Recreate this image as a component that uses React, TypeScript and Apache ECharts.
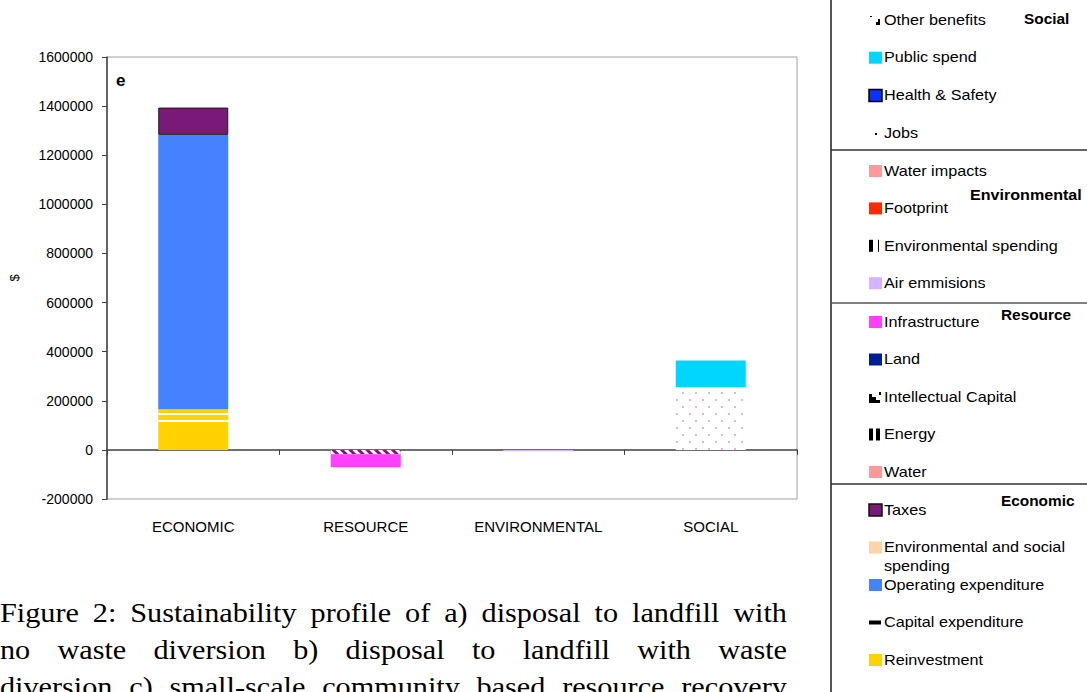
import React, { useEffect, useRef } from "react";
import * as echarts from "echarts";

// Categories along the x axis
const categories = ["ECONOMIC", "RESOURCE", "ENVIRONMENTAL", "SOCIAL"];

// Value axis range ($)
const yMin = -200000;
const yMax = 1600000;
const yStep = 200000;

// Economic indicators
const reinvestment = [109000, null, null, null];
const capitalExpenditure = [57000, null, null, null];
const envSocialSpending = [null, null, null, null];
const operatingExpenditure = [1117000, null, null, null];
const taxes = [111000, null, null, null];

// Resource indicators
const intellectualCapital = [null, -18000, null, null];
const infrastructure = [null, -53000, null, null];
const land = [null, null, null, null];
const energy = [null, null, null, null];
const water = [null, null, null, null];

// Environmental indicators
const airEmissions = [null, null, -6000, null];
const envSpending = [null, null, null, null];
const footprint = [null, null, null, null];
const waterImpacts = [null, null, null, null];

// Social indicators
const jobs = [null, null, null, 255000];
const healthSafety = [null, null, null, null];
const publicSpend = [null, null, null, 109000];
const otherBenefits = [null, null, null, null];

// Legend groups (top to bottom in the side panel)
const legendSocial = ["Other benefits", "Public spend", "Health & Safety", "Jobs"];
const legendEnvironmental = ["Water impacts", "Footprint", "Environmental spending", "Air emmisions"];
const legendResource = ["Infrastructure", "Land", "Intellectual Capital", "Energy", "Water"];
const legendEconomic = ["Taxes", "Environmental and social\nspending", "Operating expenditure", "Capital expenditure", "Reinvestment"];

const captionLines = [
  "Figure 2: Sustainability profile of a) disposal to landfill with",
  "no waste diversion b) disposal to landfill with waste",
  "diversion c) small-scale community based resource recovery",
];

const COLORS: Record<string, string> = {
  reinvest: "#FFD200",
  capex: "#FFD200",
  envsoc: "#FFD3A8",
  opex: "#4482FF",
  taxes: "#7A1A78",
  ic: "#7A1A78",
  infra: "#FF40FF",
  land: "#001E96",
  water: "#FF9999",
  air: "#D6B3FF",
  footprint: "#FF2A00",
  jobs: "#FFFFFF",
  hs: "#0A32FF",
  publicSpend: "#00D6FF",
};

const LABEL_FONT = '"Liberation Sans", Arial, sans-serif';
const SERIF_FONT = '"Liberation Serif", "Times New Roman", serif';
// Text in the panel and caption is set slightly wide
const WIDE = 1.08;

function bar(name: string, data: (number | null)[], itemStyle: any) {
  return {
    name,
    type: "bar",
    stack: "total",
    barWidth: 70,
    xAxisIndex: 0,
    data,
    itemStyle,
  };
}

// Small legend swatch glyphs
function swatch(name: string, cy: number): any[] {
  const x = 869;
  const y = cy - 6;
  const box = (fill: string, stroke?: string) => ({
    type: "rect",
    shape: { x, y, width: 13, height: 12 },
    style: { fill, stroke: stroke || null, lineWidth: stroke ? 1.5 : 0 },
  });
  const blk = (rx: number, ry: number, w: number, h: number) => ({
    type: "rect",
    shape: { x: rx, y: ry, width: w, height: h },
    style: { fill: "#000" },
  });
  switch (name) {
    case "Other benefits":
      return [blk(x + 1, y + 2, 2, 1), blk(x + 7, y + 8, 4, 3), blk(x + 9, y + 5, 2, 3)];
    case "Public spend":
      return [box(COLORS.publicSpend)];
    case "Health & Safety":
      return [box(COLORS.hs, "#000")];
    case "Jobs":
      return [blk(x + 6, y + 6, 2, 2)];
    case "Water impacts":
      return [box(COLORS.water)];
    case "Footprint":
      return [box(COLORS.footprint)];
    case "Environmental spending":
      return [blk(x, y, 4, 12), blk(x + 9, y, 1, 12)];
    case "Air emmisions":
      return [box(COLORS.air)];
    case "Infrastructure":
      return [box(COLORS.infra)];
    case "Land":
      return [box(COLORS.land)];
    case "Intellectual Capital":
      return [
        {
          type: "polygon",
          shape: { points: [[x, y + 3], [x + 3, y + 3], [x + 3, y + 6], [x + 7, y + 6], [x + 7, y + 9], [x + 11, y + 9], [x + 11, y + 12], [x, y + 12]] },
          style: { fill: "#000" },
        },
        blk(x + 10, y + 1, 2, 3),
      ];
    case "Energy":
      return [blk(x, y, 4, 12), blk(x + 7, y, 4, 12)];
    case "Water":
      return [box(COLORS.water)];
    case "Taxes":
      return [box(COLORS.taxes, "#111")];
    case "Environmental and social\nspending":
      return [box(COLORS.envsoc)];
    case "Operating expenditure":
      return [box(COLORS.opex)];
    case "Capital expenditure":
      return [blk(x, y + 4, 12, 4)];
    case "Reinvestment":
      return [box(COLORS.reinvest)];
  }
  return [];
}

function legendGroup(names: string[], startY: number, pitch: number): any[] {
  const out: any[] = [];
  names.forEach((n, i) => {
    const cy = startY + i * pitch;
    out.push(...swatch(n, cy + 1));
    out.push({
      type: "text",
      x: 884,
      y: cy - 9,
      scaleX: WIDE,
      style: {
        text: n,
        font: `15px ${LABEL_FONT}`,
        fill: "#000",
        align: "left",
        verticalAlign: "top",
        lineHeight: 19,
      },
    });
  });
  return out;
}

function header(text: string, x: number, cy: number, sx: number) {
  return {
    type: "text",
    x,
    y: cy,
    scaleX: sx,
    style: {
      text,
      font: `bold 14px ${LABEL_FONT}`,
      fill: "#000",
      align: "left",
      verticalAlign: "middle",
    },
  };
}

// Full-justified caption, one text element per word
function captionElements(): any[] {
  const font = `28px ${SERIF_FONT}`;
  const canvas = document.createElement("canvas");
  const ctx = canvas.getContext("2d")!;
  ctx.font = font;
  const left = 0;
  const right = 787;
  const out: any[] = [];
  captionLines.forEach((line, li) => {
    const words = line.split(" ");
    const widths = words.map((w) => ctx.measureText(w).width * WIDE);
    const total = widths.reduce((a, b) => a + b, 0);
    const gap = (right - left - total) / (words.length - 1);
    let cx = left;
    words.forEach((w, wi) => {
      out.push({
        type: "text",
        x: cx,
        y: 612 + li * 37,
        scaleX: WIDE,
        style: { text: w, font, fill: "#000", align: "left", verticalAlign: "middle" },
      });
      cx += widths[wi] + gap;
    });
  });
  return out;
}

export default function App() {
  const ref = useRef<HTMLDivElement>(null);

  useEffect(() => {
    if (!ref.current) return;
    const chart = echarts.init(ref.current, null, { renderer: "svg" });

    const stripesH = {
      symbol: "rect",
      symbolSize: 1,
      color: "#FFFFFF",
      dashArrayX: [1, 0],
      dashArrayY: [2, 5],
      rotation: 0,
    };
    const stripesDiag = {
      symbol: "rect",
      symbolSize: 1,
      color: "#FFFFFF",
      dashArrayX: [1, 0],
      dashArrayY: [3, 3],
      rotation: Math.PI / 4,
    };
    const dots = {
      symbol: "rect",
      symbolSize: 1,
      color: "#D2B6F7",
      dashArrayX: [[2, 11], [0, 6, 2, 5]],
      dashArrayY: [2, 5],
      rotation: 0,
    };

    const series = [
      bar("Reinvestment", reinvestment, { color: COLORS.reinvest }),
      bar("Capital expenditure", capitalExpenditure, { color: COLORS.capex, decal: stripesH }),
      bar("Environmental and social spending", envSocialSpending, { color: COLORS.envsoc }),
      bar("Operating expenditure", operatingExpenditure, { color: COLORS.opex }),
      bar("Taxes", taxes, { color: COLORS.taxes, borderColor: "#1a1a1a", borderWidth: 1 }),
      bar("Intellectual Capital", intellectualCapital, { color: COLORS.ic, decal: stripesDiag }),
      bar("Infrastructure", infrastructure, { color: COLORS.infra }),
      bar("Land", land, { color: COLORS.land }),
      bar("Energy", energy, { color: "#000" }),
      bar("Water", water, { color: COLORS.water }),
      bar("Air emmisions", airEmissions, { color: COLORS.air }),
      bar("Environmental spending", envSpending, { color: "#000" }),
      bar("Footprint", footprint, { color: COLORS.footprint }),
      bar("Water impacts", waterImpacts, { color: COLORS.water }),
      bar("Jobs", jobs, { color: COLORS.jobs, decal: dots }),
      bar("Health & Safety", healthSafety, { color: COLORS.hs }),
      bar("Public spend", publicSpend, { color: COLORS.publicSpend }),
      bar("Other benefits", otherBenefits, { color: "#000" }),
    ];

    const graphic: any[] = [
      // "e" panel tag
      {
        type: "text",
        x: 116,
        y: 80,
        style: { text: "e", font: `bold 17px ${LABEL_FONT}`, fill: "#000", verticalAlign: "middle" },
      },
      // legend panel frame
      { type: "line", shape: { x1: 831, y1: 0, x2: 831, y2: 692 }, style: { stroke: "#555", lineWidth: 2 } },
      { type: "line", shape: { x1: 831, y1: 150, x2: 1087, y2: 150 }, style: { stroke: "#333", lineWidth: 1.5 } },
      { type: "line", shape: { x1: 831, y1: 303, x2: 1087, y2: 303 }, style: { stroke: "#555", lineWidth: 1.5 } },
      { type: "line", shape: { x1: 831, y1: 484, x2: 1087, y2: 484 }, style: { stroke: "#333", lineWidth: 1.5 } },
      header("Social", 1024, 19, 1.1),
      header("Environmental", 970, 195, 1.15),
      header("Resource", 1001, 315, 1.1),
      header("Economic", 1001, 501, 1.1),
      ...legendGroup(legendSocial, 19, 37.7),
      ...legendGroup(legendEnvironmental, 170, 37.4),
      ...legendGroup(legendResource, 321, 37.5),
      ...legendGroup(legendEconomic, 509, 37.5),
      ...captionElements(),
    ];

    chart.setOption({
      animation: false,
      backgroundColor: "#FFFFFF",
      textStyle: { fontFamily: LABEL_FONT },
      grid: {
        left: 107,
        top: 57,
        right: 1087 - 797,
        bottom: 692 - 499,
        outerBoundsMode: "none",
        containLabel: false,
        show: true,
        borderColor: "#A0A0A0",
        borderWidth: 1,
        backgroundColor: "transparent",
      },
      xAxis: [
        {
          type: "category",
          data: categories,
          position: "bottom",
          axisLine: { onZero: true, lineStyle: { color: "#404040", width: 1.5 } },
          axisTick: { show: true, length: 5, lineStyle: { color: "#404040" } },
          axisLabel: { show: false },
          splitLine: { show: false },
        },
        {
          type: "category",
          data: categories,
          position: "bottom",
          axisLine: { show: false, onZero: false },
          axisTick: { show: false },
          axisLabel: { show: true, margin: 20, fontSize: 15, color: "#000", fontFamily: LABEL_FONT },
          splitLine: { show: false },
        },
      ],
      yAxis: {
        type: "value",
        min: yMin,
        max: yMax,
        interval: yStep,
        name: "$",
        nameLocation: "middle",
        nameRotate: 90,
        nameGap: 86,
        nameTextStyle: { fontSize: 13, color: "#000", fontFamily: LABEL_FONT },
        axisLine: { show: true, lineStyle: { color: "#404040", width: 1.5 } },
        axisTick: { show: true, length: 5, inside: false, lineStyle: { color: "#404040" } },
        axisLabel: {
          fontSize: 14,
          color: "#000",
          margin: 14,
          fontFamily: LABEL_FONT,
          formatter: (v: number) => String(v),
        },
        splitLine: { show: false },
      },
      series,
      graphic,
    });

    return () => chart.dispose();
  }, []);

  return (
    <div
      ref={ref}
      style={{ position: "absolute", left: 0, top: 0, width: 1087, height: 692, background: "#fff" }}
    />
  );
}
